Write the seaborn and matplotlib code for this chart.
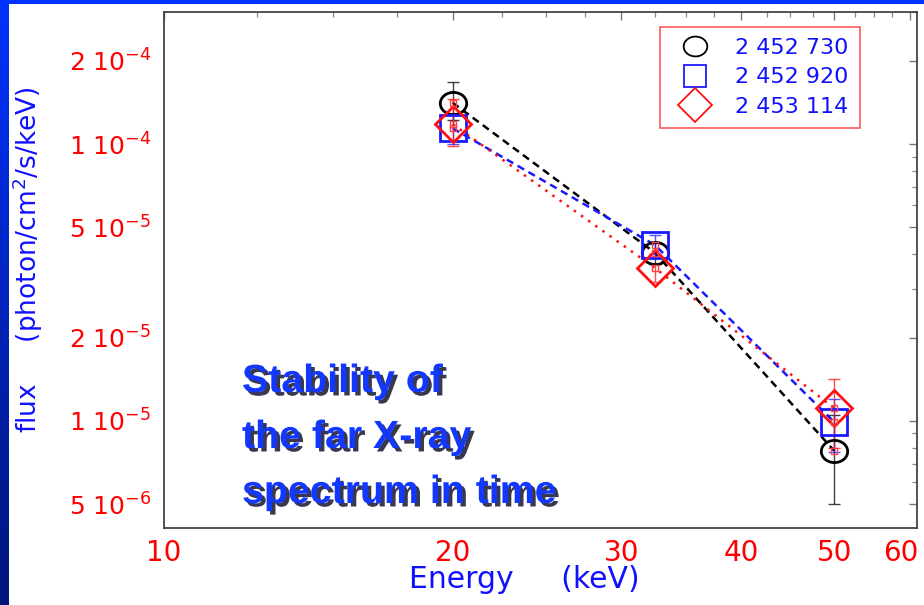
import numpy as np
import pandas as pd
import matplotlib
matplotlib.use("Agg")
import matplotlib.pyplot as plt
import matplotlib.patheffects as pe
import matplotlib.transforms as mtransforms
from matplotlib.lines import Line2D
from matplotlib.path import Path
from matplotlib.colors import LinearSegmentedColormap
from matplotlib.ticker import FixedLocator, NullFormatter, LogLocator
import seaborn as sns

# ---- data ----
energy = [20.0, 32.5, 50.0]
series_names = ["2 452 730", "2 452 920", "2 453 114"]
flux_730 = [1.41e-4, 4.05e-5, 7.8e-6]
flux_920 = [1.14e-4, 4.32e-5, 9.9e-6]
flux_114 = [1.18e-4, 3.57e-5, 1.11e-5]
low_730 = [1.22e-4, 3.70e-5, 5.0e-6]
high_730 = [1.67e-4, 4.40e-5, 1.05e-5]
low_920 = [1.00e-4, 4.00e-5, 7.7e-6]
high_920 = [1.28e-4, 4.70e-5, 1.20e-5]
low_114 = [9.8e-5, 3.17e-5, 8.0e-6]
high_114 = [1.45e-4, 3.70e-5, 1.42e-5]
x_ticks = [10, 20, 30, 40, 50, 60]
x_minor = [12.5, 15, 17.5, 22.5, 25, 27.5, 32.5, 35, 37.5, 42.5, 45, 47.5, 52.5, 55, 57.5]
y_ticks = [5e-6, 1e-5, 2e-5, 5e-5, 1e-4, 2e-4]
y_tick_labels = ["5 10$^{-6}$", "1 10$^{-5}$", "2 10$^{-5}$",
                 "5 10$^{-5}$", "1 10$^{-4}$", "2 10$^{-4}$"]
title_lines = ["Stability of", "the far X-ray", "spectrum in time"]

sns.set_theme(style="white")
plt.rcParams['font.family'] = ['DejaVu Sans']
plt.rcParams['mathtext.default'] = 'regular'

df = pd.DataFrame({
    "energy": energy * 3,
    "flux": flux_730 + flux_920 + flux_114,
    "low": low_730 + low_920 + low_114,
    "high": high_730 + high_920 + high_114,
    "series": [series_names[0]] * 3 + [series_names[1]] * 3 + [series_names[2]] * 3,
})

# ellipse marker (wider than tall)
circ = Path.unit_circle()
ellipse = Path(circ.vertices * np.array([1.0, 0.84]), circ.codes)

colors = {series_names[0]: "black", series_names[1]: "#1a1aff", series_names[2]: "#ff1010"}
markers = {series_names[0]: ellipse, series_names[1]: "s", series_names[2]: "D"}
msizes = {series_names[0]: 19, series_names[1]: 18.5, series_names[2]: 18.5}
leg_msizes = {series_names[0]: 17, series_names[1]: 16, series_names[2]: 17}
lstyles = {series_names[0]: (0, (3, 2)), series_names[1]: (0, (3, 2)), series_names[2]: (0, (1, 2.5))}

fig = plt.figure(figsize=(9.24, 6.05), dpi=100)
fig.patch.set_facecolor("white")

# slide background strips
bg = fig.add_axes([0, 0, 8.5 / 924, 1])
grad = np.linspace(0, 1, 256).reshape(-1, 1)
cmap = LinearSegmentedColormap.from_list("g", ["#0033ff", "#00157a"])
bg.imshow(grad, aspect="auto", cmap=cmap, extent=[0, 1, 0, 1], origin="upper")
bg.set_axis_off()
top = fig.add_axes([0, 1 - 4 / 605, 1, 4 / 605])
top.set_facecolor("#0033ff")
top.set_xticks([]); top.set_yticks([])
for s in top.spines.values():
    s.set_visible(False)

ax = fig.add_axes([164 / 924, 1 - 528 / 605, (917 - 164) / 924, (528 - 12) / 605])
ax.set_facecolor("white")

for name in series_names:
    sub = df[df["series"] == name]
    c = colors[name]
    sns.lineplot(data=sub, x="energy", y="flux", ax=ax, color=c, lw=1.8,
                 linestyle=lstyles[name], legend=False, sort=False)
    ax.errorbar(sub["energy"], sub["flux"],
                yerr=[sub["flux"] - sub["low"], sub["high"] - sub["flux"]],
                fmt="none", ecolor=c, elinewidth=1.0, capsize=4, alpha=0.75, zorder=3)
    ax.plot(sub["energy"], sub["flux"], linestyle="none", marker=markers[name],
            ms=msizes[name], mfc="none", mec=c, mew=2.0, zorder=4)
    ax.plot(sub["energy"], sub["flux"], linestyle="none", marker="s",
            ms=5, mfc="none", mec="#ff4040", mew=1.0, zorder=5)

ax.set_xscale("log")
ax.set_yscale("log")
ax.set_xlim(10, 61)
ax.set_ylim(4.1e-6, 3.0e-4)
ax.set_xticks(x_ticks)
ax.set_xticklabels([str(t) for t in x_ticks])
ax.xaxis.set_minor_locator(FixedLocator(x_minor))
ax.xaxis.set_minor_formatter(NullFormatter())
ax.set_yticks(y_ticks)
ax.set_yticklabels(y_tick_labels)
ax.yaxis.set_minor_locator(LogLocator(base=10, subs=np.arange(2, 10)))
ax.yaxis.set_minor_formatter(NullFormatter())
ax.tick_params(axis="both", which="major", direction="in", length=6, width=1,
               color="#777777", labelcolor="#ff0000", top=True, right=True)
ax.tick_params(axis="both", which="minor", direction="in", length=3.5, width=0.9,
               color="#888888", top=True, right=True)
ax.tick_params(axis="x", which="major", labelsize=20, pad=8)
ax.tick_params(axis="y", which="major", labelsize=18, pad=9)
for s in ax.spines.values():
    s.set_color("#444444")
    s.set_linewidth(1.3)

# nudge the last x tick label so it stays inside the picture
last = ax.get_xticklabels()[-1]
last.set_transform(last.get_transform() +
                   mtransforms.ScaledTranslation(-9 / 100, 0, fig.dpi_scale_trans))

ax.set_xlabel("Energy     (keV)", color="#1010ff", fontsize=21.5)
ax.xaxis.set_label_coords(0.478, -0.072)
ax.set_ylabel("flux     (photon/cm$^{2}$/s/keV)", color="#1010ff", fontsize=19)
ax.yaxis.set_label_coords(-0.158, 0.52)

handles = [Line2D([0], [0], linestyle="none", marker=markers[n], ms=leg_msizes[n],
                  mfc="none", mec=colors[n], mew=1.3) for n in series_names]
leg = ax.legend(handles, series_names, loc="upper right", bbox_to_anchor=(0.924, 0.971),
                frameon=True, fontsize=16, handletextpad=0.7, borderpad=0.5,
                labelspacing=0.42, fancybox=False, borderaxespad=0, handlelength=2.2)
leg.get_frame().set_edgecolor("#ff3030")
leg.get_frame().set_linewidth(1.2)
for t in leg.get_texts():
    t.set_color("#1010ff")

baselines_px = [392, 448, 503]
for line, ypx in zip(title_lines, baselines_px):
    fig.text(242 / 924, 1 - ypx / 605, line, ha="left", va="baseline",
             color="#1238ff", fontsize=28.3, fontweight="bold",
             family=["Liberation Sans", "DejaVu Sans"],
             path_effects=[pe.withSimplePatchShadow(offset=(2.5, -2.5),
                                                    shadow_rgbFace="#151530", alpha=0.85)])

fig.savefig("out.png", dpi=100)
